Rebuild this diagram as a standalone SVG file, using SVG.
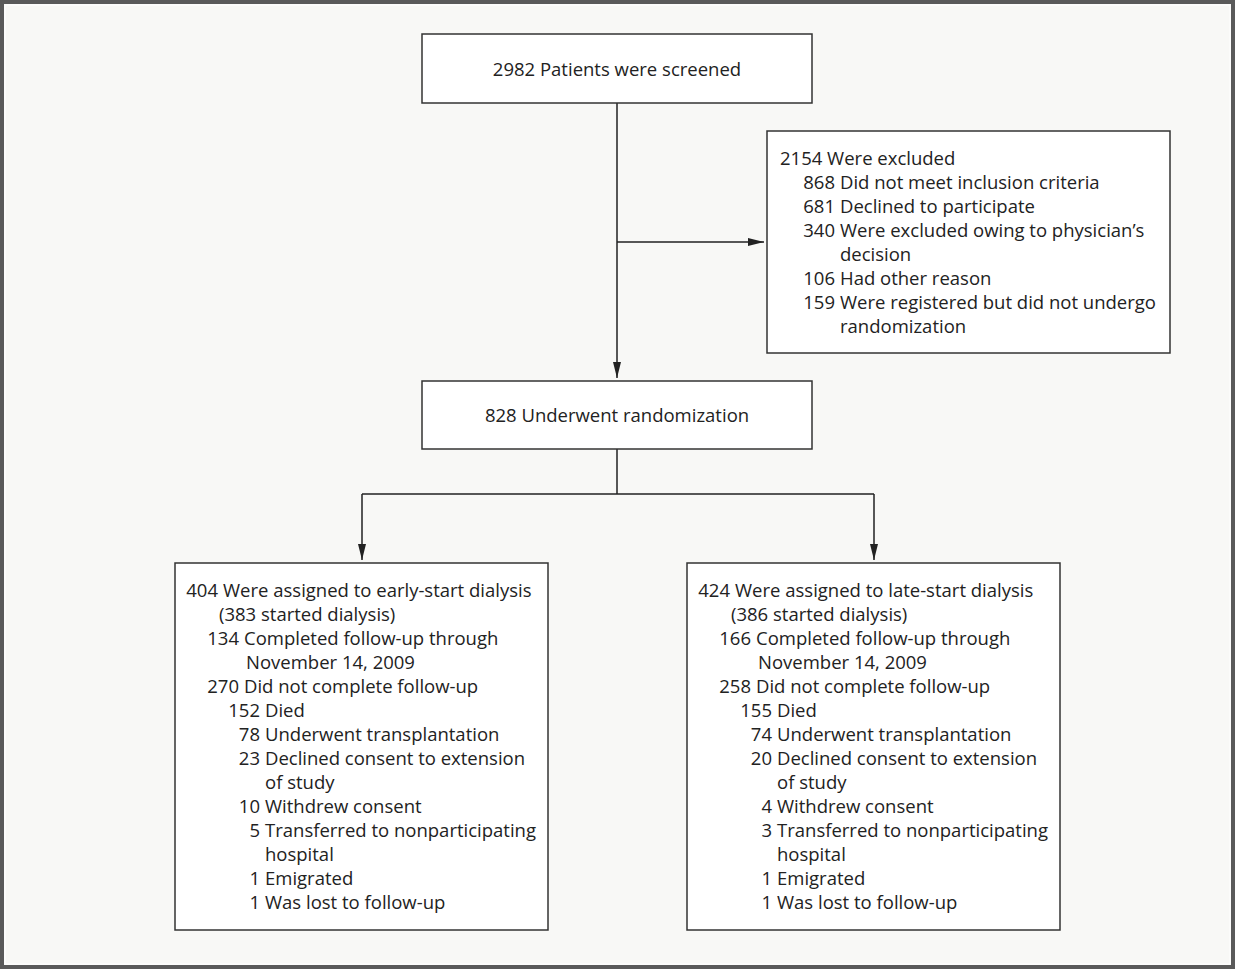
<svg xmlns="http://www.w3.org/2000/svg" width="1235" height="969" viewBox="0 0 1235 969">
<defs>
<style>
.bg{fill:#f8f8f6}
.frame{fill:none;stroke:#5a5a5a;stroke-width:4}
.box{fill:#ffffff;stroke:#333333;stroke-width:1.5}
.t{font-family:"Open Sans","Liberation Sans",sans-serif;font-size:18.5px;fill:#222222}
.n{font-family:"Open Sans","Liberation Sans",sans-serif;font-size:18.5px;fill:#222222;text-anchor:end}
.c{text-anchor:middle}
.ln{fill:none;stroke:#222222;stroke-width:1.5}
</style>
<marker id="arr" viewBox="0 0 16 8" refX="16" refY="4" markerWidth="16" markerHeight="8" markerUnits="userSpaceOnUse" orient="auto">
<path d="M0,0 L16,4 L0,8 Z" fill="#222222"/>
</marker>
</defs>
<rect class="bg" x="0" y="0" width="1235" height="969"/>
<rect class="frame" x="2" y="2" width="1231" height="965"/>
<rect x="5" y="5" width="1225" height="959" fill="none" stroke="#ffffff" stroke-width="1"/>

<g id="connectors">
<path class="ln" d="M617,103 V378" marker-end="url(#arr)"/>
<path class="ln" d="M617,242 H764" marker-end="url(#arr)"/>
<path class="ln" d="M617,449 V494"/>
<path class="ln" d="M362,494 H874"/>
<path class="ln" d="M362,494 V560" marker-end="url(#arr)"/>
<path class="ln" d="M874,494 V560" marker-end="url(#arr)"/>
</g>

<g id="screened">
<rect class="box" x="422" y="34" width="390" height="69"/>
<text class="t c" x="617" y="76">2982 Patients were screened</text>
</g>

<g id="excluded">
<rect class="box" x="767" y="131" width="403" height="222"/>
<text class="t" x="780" y="165">2154 Were excluded</text>
<text class="n" x="835" y="189">868</text><text class="t" x="840" y="189">Did not meet inclusion criteria</text>
<text class="n" x="835" y="213">681</text><text class="t" x="840" y="213">Declined to participate</text>
<text class="n" x="835" y="237">340</text><text class="t" x="840" y="237">Were excluded owing to physician’s</text>
<text class="t" x="840" y="261">decision</text>
<text class="n" x="835" y="285">106</text><text class="t" x="840" y="285">Had other reason</text>
<text class="n" x="835" y="309">159</text><text class="t" x="840" y="309">Were registered but did not undergo</text>
<text class="t" x="840" y="333">randomization</text>
</g>

<g id="randomization">
<rect class="box" x="422" y="381" width="390" height="68"/>
<text class="t c" x="617" y="422">828 Underwent randomization</text>
</g>

<g id="early">
<rect class="box" x="175" y="563" width="373" height="367"/>
<text class="n" x="218" y="597">404</text><text class="t" x="223" y="597">Were assigned to early-start dialysis</text>
<text class="t" x="219" y="621">(383 started dialysis)</text>
<text class="n" x="239" y="645">134</text><text class="t" x="244" y="645">Completed follow-up through</text>
<text class="t" x="246" y="669">November 14, 2009</text>
<text class="n" x="239" y="693">270</text><text class="t" x="244" y="693">Did not complete follow-up</text>
<text class="n" x="260" y="717">152</text><text class="t" x="265" y="717">Died</text>
<text class="n" x="260" y="741">78</text><text class="t" x="265" y="741">Underwent transplantation</text>
<text class="n" x="260" y="765">23</text><text class="t" x="265" y="765">Declined consent to extension</text>
<text class="t" x="265" y="789">of study</text>
<text class="n" x="260" y="813">10</text><text class="t" x="265" y="813">Withdrew consent</text>
<text class="n" x="260" y="837">5</text><text class="t" x="265" y="837">Transferred to nonparticipating</text>
<text class="t" x="265" y="861">hospital</text>
<text class="n" x="260" y="885">1</text><text class="t" x="265" y="885">Emigrated</text>
<text class="n" x="260" y="909">1</text><text class="t" x="265" y="909">Was lost to follow-up</text>
</g>

<g id="late">
<rect class="box" x="687" y="563" width="373" height="367"/>
<text class="n" x="730" y="597">424</text><text class="t" x="735" y="597">Were assigned to late-start dialysis</text>
<text class="t" x="731" y="621">(386 started dialysis)</text>
<text class="n" x="751" y="645">166</text><text class="t" x="756" y="645">Completed follow-up through</text>
<text class="t" x="758" y="669">November 14, 2009</text>
<text class="n" x="751" y="693">258</text><text class="t" x="756" y="693">Did not complete follow-up</text>
<text class="n" x="772" y="717">155</text><text class="t" x="777" y="717">Died</text>
<text class="n" x="772" y="741">74</text><text class="t" x="777" y="741">Underwent transplantation</text>
<text class="n" x="772" y="765">20</text><text class="t" x="777" y="765">Declined consent to extension</text>
<text class="t" x="777" y="789">of study</text>
<text class="n" x="772" y="813">4</text><text class="t" x="777" y="813">Withdrew consent</text>
<text class="n" x="772" y="837">3</text><text class="t" x="777" y="837">Transferred to nonparticipating</text>
<text class="t" x="777" y="861">hospital</text>
<text class="n" x="772" y="885">1</text><text class="t" x="777" y="885">Emigrated</text>
<text class="n" x="772" y="909">1</text><text class="t" x="777" y="909">Was lost to follow-up</text>
</g>
</svg>
